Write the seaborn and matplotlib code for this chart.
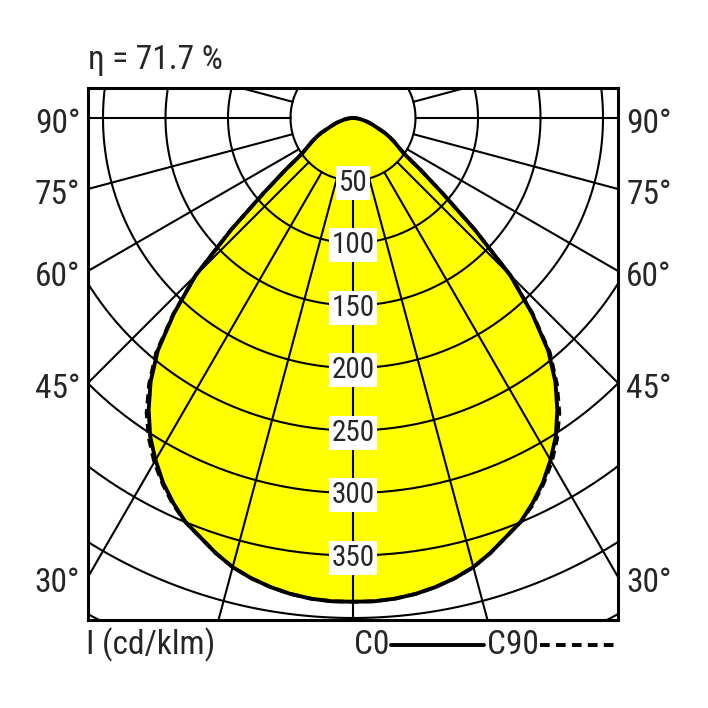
import numpy as np
import pandas as pd
import matplotlib
matplotlib.use('Agg')
import matplotlib.pyplot as plt
from matplotlib import font_manager
from matplotlib.lines import Line2D
import seaborn as sns

# luminous intensity (cd/klm) per gamma angle
gamma = [0, 2.5, 5, 7.5, 10, 12.5, 15, 17.5, 20, 22.5, 25, 27.5, 30, 32.5, 35, 37.5,
         40, 42.5, 45, 47.5, 50, 52.5, 55, 57.5, 60, 62.5, 65, 67.5, 70, 72.5, 75,
         77.5, 80, 82.5, 85, 87.5, 90]
c0 = [387, 387, 386, 384, 381, 377, 372, 365, 357, 350, 340, 329, 316, 302, 285, 266,
      243, 212, 178, 132, 93, 68, 50, 43, 38, 33, 28, 22, 18, 15, 12,
      9, 7, 5, 3, 1.5, 0]
c90 = [387, 387, 386, 384, 381, 377, 372, 365, 357, 350, 341, 330, 318, 304, 288, 268,
       245, 213, 178, 132, 93, 68, 50, 43, 38, 33, 28, 22, 18, 15, 12,
       9, 7, 5, 3, 1.5, 0]

ring_values = [50, 100, 150, 200, 250, 300, 350]
angle_labels = [90, 75, 60, 45, 30]
efficiency = 'η = 71.7 %'
unit_label = 'I (cd/klm)'

sns.set_style('white')
names = {f.name for f in font_manager.fontManager.ttflist}
family = 'DejaVu Sans'
for cand in ['Liberation Sans Narrow', 'Roboto Condensed', 'Liberation Sans']:
    if cand in names:
        family = cand
        break
plt.rcParams['font.family'] = [family, 'DejaVu Sans']


def curve(vals):
    # mirror the half plane so both sides of the luminaire are drawn
    g = np.radians(np.array(gamma, dtype=float))
    v = np.array(vals, dtype=float)
    th = np.concatenate([-g[::-1], g[1:]])
    r = np.concatenate([v[::-1], v[1:]])
    return pd.DataFrame({'x': r * np.sin(th), 'y': -r * np.cos(th), 'order': np.arange(len(th))})


W = 708
fig = plt.figure(figsize=(7.08, 7.08), dpi=100)
ax = fig.add_axes([88 / W, (W - 620) / W, 530 / W, 532 / W])
xl = (88 - 353) / 1.25
xr = (618 - 353) / 1.25
yt = (118 - 88) / 1.25
yb = -(620 - 118) / 1.25
ax.set_xlim(xl, xr)
ax.set_ylim(yb, yt)
ax.set_xticks([])
ax.set_yticks([])
for s in ax.spines.values():
    s.set_linewidth(2.2)
    s.set_color('black')
    s.set_zorder(6)

df0 = curve(c0)
df90 = curve(c90)
ax.fill(df0['x'], df0['y'], color='#FFFF00', zorder=1, lw=0)

# polar grid
t = np.linspace(0, 2 * np.pi, 721)
for rv in range(50, 650, 50):
    ax.plot(rv * np.sin(t), rv * np.cos(t), color='black', lw=1.5, zorder=2)
for a in range(0, 360, 15):
    ar = np.radians(a)
    ax.plot([50 * np.sin(ar), 700 * np.sin(ar)], [-50 * np.cos(ar), -700 * np.cos(ar)],
            color='black', lw=1.5, zorder=2)

sns.lineplot(data=df0, x='x', y='y', sort=False, estimator=None, color='black',
             lw=2.8, ax=ax, zorder=3)
sns.lineplot(data=df90, x='x', y='y', sort=False, estimator=None, color='black',
             lw=2.6, ax=ax, zorder=3, dashes=False, linestyle=(0, (2.5, 1.6)))
ax.set_xlabel('')
ax.set_ylabel('')

for rv in ring_values:
    ax.annotate(str(rv), xy=(0, -rv), xytext=(0, -1.5), textcoords='offset points',
                ha='center', va='center', fontsize=21, zorder=5,
                bbox=dict(boxstyle='square,pad=0.1', fc='white', ec='none'))

for a in angle_labels:
    y = 0 if a == 90 else -xr / np.tan(np.radians(a))
    ax.annotate(f'{a}°', xy=(0, y), xycoords=('axes fraction', 'data'), xytext=(-5.5, -4.5),
                textcoords='offset points', ha='right', va='center', fontsize=24,
                annotation_clip=False)
    ax.annotate(f'{a}°', xy=(1, y), xycoords=('axes fraction', 'data'), xytext=(6, -4.5),
                textcoords='offset points', ha='left', va='center', fontsize=24,
                annotation_clip=False)

fig.text(88 / W, 1 - 60 / W, efficiency, ha='left', va='center', fontsize=24)
fig.text(86 / W, 1 - 645 / W, unit_label, ha='left', va='center', fontsize=24)
fig.text(354 / W, 1 - 645 / W, 'C0', ha='left', va='center', fontsize=24)
fig.text(487 / W, 1 - 645 / W, 'C90', ha='left', va='center', fontsize=24)
fig.add_artist(Line2D([391 / W, 484 / W], [1 - 645 / W] * 2, color='black', lw=2.8))
fig.add_artist(Line2D([540 / W, 614 / W], [1 - 645 / W] * 2, color='black', lw=2.8,
                      linestyle=(0, (2.5, 1.6))))

fig.savefig('out.png', dpi=100, facecolor='white')
